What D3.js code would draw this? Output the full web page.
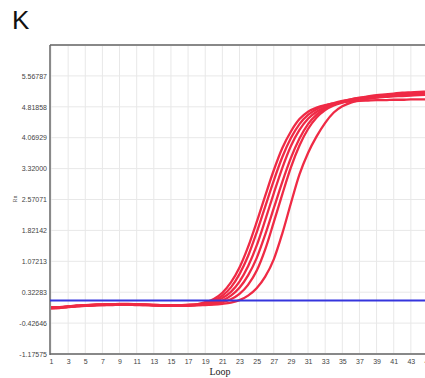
<!DOCTYPE html>
<html>
<head>
<meta charset="utf-8">
<script src="https://cdn.jsdelivr.net/npm/d3@7"></script>
<style>
html,body{margin:0;padding:0;background:#fff;overflow:hidden;}
svg{display:block;}
</style>
</head>
<body>
<svg id="chart" width="425" height="378"></svg>
<script>
// ---- data ----
const cycles = d3.range(1, 46);
const xTickLabels = ["1","3","5","7","9","11","13","15","17","19","21","23","25","27","29","31","33","35","37","39","41","43","45"];
const yTickLabels = ["-1.17575","-0.42646","0.32283","1.07213","1.82142","2.57071","3.32000","4.06929","4.81858","5.56787"];
const yMin = -1.17575, yMax = 6.31716;
const threshold = 0.124;
const curveA = [-0.06,-0.05,-0.03,-0.01,0.0,0.01,0.02,0.02,0.03,0.03,0.02,0.02,0.01,0.0,0.0,0.0,0.01,
  0.03,0.08,0.16,0.31,0.56,0.92,1.42,2.02,2.66,3.28,3.82,4.22,4.52,4.7,4.8,4.86,4.9,4.93,4.95,4.96,4.97,4.98,4.98,4.99,4.99,5.0,5.0,5.0];
const curveB = [-0.04,-0.04,-0.02,0.0,0.01,0.02,0.03,0.03,0.04,0.04,0.03,0.02,0.02,0.01,0.01,0.01,0.02,
  0.03,0.06,0.12,0.24,0.44,0.76,1.2,1.77,2.4,3.03,3.6,4.06,4.4,4.62,4.76,4.85,4.91,4.96,5.0,5.03,5.06,5.08,5.1,5.12,5.13,5.14,5.15,5.16];
const curveC = [-0.07,-0.06,-0.04,-0.02,-0.01,0.0,0.01,0.01,0.02,0.02,0.01,0.01,0.0,-0.01,-0.01,-0.01,0.0,
  0.01,0.04,0.09,0.18,0.33,0.58,0.95,1.45,2.07,2.72,3.34,3.87,4.26,4.53,4.7,4.81,4.88,4.93,4.97,5.0,5.02,5.04,5.06,5.07,5.08,5.09,5.1,5.11];
const curveD = [-0.05,-0.04,-0.03,-0.01,0.0,0.01,0.02,0.03,0.03,0.03,0.03,0.02,0.01,0.01,0.0,0.0,0.01,
  0.02,0.03,0.06,0.12,0.24,0.43,0.73,1.15,1.72,2.36,3.0,3.58,4.05,4.4,4.63,4.78,4.88,4.95,5.0,5.04,5.07,5.1,5.12,5.14,5.16,5.17,5.18,5.19];
const curveE = [-0.06,-0.05,-0.03,-0.02,0.0,0.01,0.01,0.02,0.02,0.03,0.02,0.01,0.01,0.0,0.0,-0.01,0.0,
  0.01,0.02,0.04,0.08,0.15,0.28,0.5,0.84,1.36,2.02,2.7,3.35,3.88,4.28,4.56,4.74,4.85,4.92,4.97,5.01,5.04,5.06,5.08,5.1,5.11,5.12,5.13,5.14];
const curveF = [-0.05,-0.05,-0.02,-0.01,0.0,0.02,0.02,0.03,0.03,0.03,0.02,0.02,0.01,0.01,0.0,0.0,0.0,
  0.01,0.01,0.02,0.04,0.07,0.13,0.24,0.42,0.7,1.12,1.75,2.48,3.18,3.7,4.1,4.43,4.68,4.83,4.92,4.98,5.02,5.05,5.08,5.1,5.12,5.13,5.14,5.15];
const series = [curveA, curveB, curveC, curveD, curveE, curveF];

// ---- layout ----
const svg = d3.select("#chart");
const L = 50, T = 45, B = 354, R = 425;
const x = d3.scaleLinear().domain([1, 45]).range([51, 428]);
const y = d3.scaleLinear().domain([yMin, yMax]).range([B, T]);
const yTicks = yTickLabels.map(Number);
const xTicks = xTickLabels.map(Number);

// title
svg.append("text").attr("x", 12).attr("y", 29)
  .attr("font-family", "Liberation Sans, Arial, sans-serif").attr("font-size", 26)
  .attr("fill", "#111").text("K");

// grid
const grid = svg.append("g");
grid.selectAll("line.v").data(xTicks).join("line")
  .attr("x1", d => x(d)).attr("x2", d => x(d)).attr("y1", T).attr("y2", B)
  .attr("stroke", "#e8e8e8").attr("stroke-width", 1);
grid.selectAll("line.h").data(yTicks).join("line")
  .attr("x1", L).attr("x2", R).attr("y1", d => y(d)).attr("y2", d => y(d))
  .attr("stroke", "#e8e8e8").attr("stroke-width", 1);

// axes
const yAxis = d3.axisLeft(y).tickValues(yTicks).tickSize(0).tickPadding(3)
  .tickFormat((d, i) => yTickLabels[i]);
const gy = svg.append("g").attr("transform", `translate(${L},0)`).call(yAxis);
gy.select(".domain").remove();
gy.selectAll("text").attr("font-family", "Liberation Sans, Arial, sans-serif")
  .attr("font-size", 7).attr("fill", "#444");

const xAxis = d3.axisBottom(x).tickValues(xTicks).tickSize(0).tickPadding(5)
  .tickFormat((d, i) => xTickLabels[i]);
const gx = svg.append("g").attr("transform", `translate(0,${B})`).call(xAxis);
gx.select(".domain").remove();
gx.selectAll("text").attr("font-family", "Liberation Sans, Arial, sans-serif")
  .attr("font-size", 7).attr("fill", "#444");

// frame
svg.append("line").attr("x1", L).attr("x2", R).attr("y1", T).attr("y2", T)
  .attr("stroke", "#888").attr("stroke-width", 2);
svg.append("line").attr("x1", L).attr("x2", R).attr("y1", B).attr("y2", B)
  .attr("stroke", "#888").attr("stroke-width", 2);
svg.append("line").attr("x1", L).attr("x2", L).attr("y1", T).attr("y2", B + 1)
  .attr("stroke", "#666").attr("stroke-width", 1.5);

// axis titles
svg.append("text").attr("x", 220).attr("y", 375).attr("text-anchor", "middle")
  .attr("font-family", "Liberation Serif, Times New Roman, serif").attr("font-size", 10)
  .attr("fill", "#222").text("Loop");
svg.append("text").attr("transform", "translate(17,199) rotate(-90)").attr("text-anchor", "middle")
  .attr("font-family", "Liberation Serif, serif").attr("font-size", 6)
  .attr("fill", "#555").text("Rn");

// curves
const line = d3.line().x((d, i) => x(cycles[i])).y(d => y(d)).curve(d3.curveMonotoneX);
svg.append("g").selectAll("path").data(series).join("path")
  .attr("d", line).attr("fill", "none").attr("stroke", "#ef2a45").attr("stroke-width", 2.3);

// threshold
svg.append("line").attr("x1", L).attr("x2", R).attr("y1", y(threshold)).attr("y2", y(threshold))
  .attr("stroke", "#3535dd").attr("stroke-width", 2);
</script>
</body>
</html>
